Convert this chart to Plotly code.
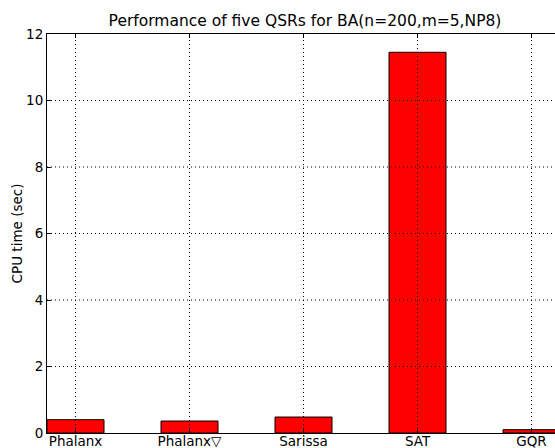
import plotly.graph_objects as go

# Solver runtimes on the BA(n=200, m=5, NP8) instances
methods = ["Phalanx", "Phalanx\u25bd", "Sarissa", "SAT", "GQR"]
cpu_time = [0.40, 0.36, 0.48, 11.45, 0.10]
y_ticks = [0, 2, 4, 6, 8, 10, 12]

positions = list(range(len(methods)))

FONT = "DejaVu Sans"

fig = go.Figure(
    go.Bar(
        x=positions,
        y=cpu_time,
        width=0.5,
        marker=dict(color="#ff0000", line=dict(color="black", width=1)),
    )
)

# dotted grid drawn on top of the bars
grid_style = dict(color="black", width=1, dash="1px,3px")
for v in y_ticks[1:-1]:
    fig.add_hline(y=v, line=grid_style, layer="above")
for p in positions:
    fig.add_vline(x=p, line=grid_style, layer="above")

fig.update_layout(
    width=555,
    height=448,
    margin=dict(l=47, r=0, t=34, b=15),
    paper_bgcolor="white",
    plot_bgcolor="white",
    showlegend=False,
    font=dict(family=FONT, color="black", size=13.5),
    title=dict(
        text="Performance of five QSRs for BA(n=200,m=5,NP8)",
        x=305 / 555,
        xanchor="center",
        y=1 - 21 / 448,
        yanchor="middle",
        font=dict(family=FONT, size=15.5, color="black"),
    ),
    xaxis=dict(
        range=[-0.25, 4.206],
        tickvals=positions,
        ticktext=methods,
        ticks="inside",
        ticklen=4,
        tickcolor="black",
        showline=True,
        linecolor="black",
        linewidth=1,
        mirror="ticks",
        showgrid=False,
        zeroline=False,
        automargin=False,
        ticklabelstandoff=-4,
        tickfont=dict(family=FONT, size=13.5, color="black"),
    ),
    yaxis=dict(
        range=[0, 12],
        tickvals=y_ticks,
        ticks="inside",
        ticklen=4,
        tickcolor="black",
        showline=True,
        linecolor="black",
        linewidth=1,
        showgrid=False,
        zeroline=False,
        automargin=False,
        tickfont=dict(family=FONT, size=13.5, color="black"),
        title=dict(text="CPU time (sec)", standoff=0,
                   font=dict(family=FONT, size=13.5, color="black")),
    ),
)

fig.write_html("out.html")
